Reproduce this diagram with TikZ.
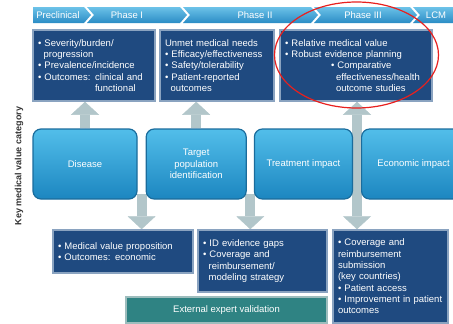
\documentclass[tikz,border=0pt]{standalone}
\usepackage{fontspec}
\setmainfont{Liberation Sans}
\usetikzlibrary{positioning,arrows.meta,calc,backgrounds}
\definecolor{navy}{HTML}{1F4A80}
\definecolor{navyframe}{HTML}{8AA3C0}
\definecolor{valuetop}{HTML}{52BEEA}
\definecolor{valuebot}{HTML}{1C86C0}
\definecolor{valueedge}{HTML}{1A6C9C}
\definecolor{phasetop}{HTML}{6CC2E8}
\definecolor{phasebot}{HTML}{2A8CC5}
\definecolor{arrowgray}{HTML}{B2C6CA}
\definecolor{teal}{HTML}{2F8383}
\definecolor{tealframe}{HTML}{9DBDBD}
\definecolor{ringred}{HTML}{E8201E}
\tikzset{>={Triangle[width=28pt,length=13pt,line width=0.4pt]}}

\newcommand{\bul}{\textbullet~}
\newcommand{\indt}{\hspace*{0.6em}}

\begin{document}
\begin{tikzpicture}[x=1pt, y=-1pt,
    txt/.style={font=\fontsize{9.5pt}{11.3pt}\selectfont, text=white},
    navybox/.style={txt, draw=navyframe, line width=1.5pt, fill=navy, align=left, inner xsep=5pt},
    valuebox/.style={txt, draw=valueedge, line width=1.2pt, top color=valuetop, bottom color=valuebot,
                     rounded corners=8pt, align=center, minimum height=70pt},
    phase/.style={top color=phasetop, bottom color=phasebot},
    fat/.style={line width=10pt, draw=arrowgray, fill=arrowgray}]
        \path[use as bounding box, clip] (0,0) rectangle (453,324);

        % phase banner
        \path[phase] (33,7) -- (84,7) -- (91,15) -- (84,23) -- (33,23) -- cycle;
        \path[phase] (87,7) -- (180,7) -- (187,15) -- (180,23) -- (87,23) -- (94,15) -- cycle;
        \path[phase] (183,7) -- (311,7) -- (318,15) -- (311,23) -- (183,23) -- (190,15) -- cycle;
        \path[phase] (314,7) -- (410,7) -- (417,15) -- (410,23) -- (314,23) -- (321,15) -- cycle;
        \path[phase] (413,7) -- (460,7) -- (460,23) -- (413,23) -- (420,15) -- cycle;
        \node[txt] (pre) at (58,15) {Preclinical};
        \node[txt] (p1) at (127,15) {Phase I};
        \node[txt] (p2) at (255,15) {Phase II};
        \node[txt] (p3) at (363,15) {Phase III};
        \node[txt] (lcm) at (436,15) {LCM};

        % top boxes
        \node[navybox, text width=112pt, minimum height=71pt] (sev) at (94,65.5)
          {\bul Severity/burden/\\\indt progression\\\bul Prevalence/incidence\\\bul Outcomes: clinical and\\\hspace*{57pt}functional};
        \node[navybox, text width=104pt, minimum height=71pt] (unm) at (217,65.5)
          {Unmet medical needs\\\bul Efficacy/effectiveness\\\bul Safety/tolerability\\\bul Patient-reported\\\indt outcomes};
        \node[navybox, text width=142pt, minimum height=71pt] (rel) at (356,65.5)
          {\bul Relative medical value\\\bul Robust evidence planning\\\hspace*{46pt}\bul Comparative\\\hspace*{51pt}effectiveness/health\\\hspace*{51pt}outcome studies};

        % value categories
        \node[valuebox, minimum width=104pt] (dis) at (85,164) {Disease};
        \node[valuebox, minimum width=100pt, right=8pt of dis] (tgt) {Target\\population\\identification};
        \node[valuebox, minimum width=98pt, right=7pt of tgt] (trt) {Treatment impact};
        \node[valuebox, minimum width=104pt, right=8pt of trt] (eco) {Economic impact};
        \node[rotate=90, font=\fontsize{9pt}{10pt}\selectfont\bfseries, text=black!80] (kmv) at (19,166)
          {Key medical value category};

        % bottom boxes
        \node[navybox, text width=130pt, minimum height=43pt] (mvp) at (123,251.5)
          {\bul Medical value proposition\\\bul Outcomes: economic};
        \node[navybox, text width=119pt, minimum height=62pt] (idg) at (262.5,261)
          {\bul ID evidence gaps\\\bul Coverage and\\\indt reimbursement/\\\indt modeling strategy};
        \node[navybox, text width=105pt, minimum height=93pt] (cov) at (390.5,276.5)
          {\bul Coverage and\\reimbursement\\submission\\(key countries)\\\bul Patient access\\\bul Improvement in patient\\outcomes};
        \node[txt, draw=tealframe, line width=1.5pt, fill=teal, minimum width=201pt, minimum height=26pt] (ext)
          at (226.5,310) {External expert validation};

        \coordinate (g1) at ($(dis.south east)!.5!(tgt.south west)$);
        \coordinate (g2) at ($(tgt.south east)!.5!(trt.south west)$);
        \coordinate (g3) at ($(trt.east)!.5!(eco.west)$);

        \begin{scope}[on background layer]
          \draw[fat, ->] (dis) -- (dis |- sev.south);
          \draw[fat, ->] (tgt) -- (tgt |- unm.south);
          \draw[fat, ->] ([yshift=6pt]g1) -- (g1 |- mvp.north);
          \draw[fat, ->] ([yshift=6pt]g2) -- (g2 |- idg.north);
          \draw[fat, <->] (g3 |- rel.south) -- (g3 |- cov.north);
        \end{scope}

        \draw[ringred, line width=1.2pt] (356.5,55) ellipse [x radius=82pt, y radius=53pt];
      \end{tikzpicture}
\end{document}
